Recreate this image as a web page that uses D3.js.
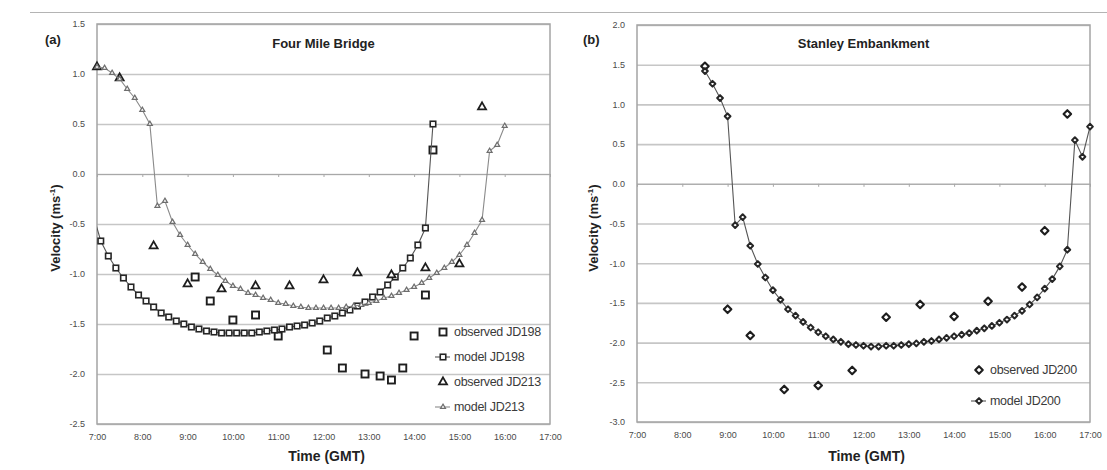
<!DOCTYPE html>
<html>
<head>
<meta charset="utf-8">
<script src="https://cdn.jsdelivr.net/npm/d3@7"></script>
<style>
  body { margin: 0; background: #fff; }
  svg { display: block; font-family: "Liberation Sans", Arial, sans-serif; }
</style>
</head>
<body>
<svg id="chart" width="1107" height="470"></svg>
<script>
// ---- shared axis labels ----
const timeTickLabels = ["7:00","8:00","9:00","10:00","11:00","12:00","13:00","14:00","15:00","16:00","17:00"];
const yTicksA = [-2.5, -2.0, -1.5, -1.0, -0.5, 0.0, 0.5, 1.0, 1.5];
const yTicksB = [-3.0, -2.5, -2.0, -1.5, -1.0, -0.5, 0.0, 0.5, 1.0, 1.5, 2.0];

// ---- (a) Four Mile Bridge ----
const modelJD198Time = ["6:55","7:05","7:15","7:25","7:35","7:45","7:55","8:05","8:15","8:25","8:35","8:45","8:55",
  "9:05","9:15","9:25","9:35","9:45","9:55","10:05","10:15","10:25","10:35","10:45","10:55",
  "11:05","11:15","11:25","11:35","11:45","11:55","12:05","12:15","12:25","12:35","12:45","12:55",
  "13:05","13:15","13:25","13:35","13:45","13:55","14:05","14:15","14:25"];
const modelJD198 = [-0.41,-0.67,-0.82,-0.94,-1.04,-1.13,-1.21,-1.27,-1.33,-1.39,-1.43,-1.47,-1.50,
  -1.53,-1.55,-1.57,-1.58,-1.59,-1.59,-1.59,-1.59,-1.59,-1.58,-1.57,-1.56,
  -1.55,-1.53,-1.52,-1.51,-1.49,-1.47,-1.44,-1.42,-1.39,-1.36,-1.32,-1.28,
  -1.23,-1.18,-1.11,-1.03,-0.94,-0.84,-0.71,-0.54,0.50];

const obsJD198Time = ["9:10","9:30","10:00","10:30","11:00","12:05","12:25","12:55","13:15","13:30","13:45","14:00","14:15","14:25"];
const obsJD198 = [-1.03,-1.27,-1.46,-1.41,-1.62,-1.76,-1.94,-2.00,-2.02,-2.06,-1.94,-1.62,-1.21,0.24];

const modelJD213Time = ["7:00","7:10","7:20","7:30","7:40","7:50","8:00","8:10","8:20","8:30","8:40","8:50",
  "9:00","9:10","9:20","9:30","9:40","9:50","10:00","10:10","10:20","10:30","10:40","10:50",
  "11:00","11:10","11:20","11:30","11:40","11:50","12:00","12:10","12:20","12:30","12:40","12:50",
  "13:00","13:10","13:20","13:30","13:40","13:50","14:00","14:10","14:20","14:30","14:40","14:50",
  "15:00","15:10","15:20","15:30","15:40","15:50","16:00"];
const modelJD213 = [1.07,1.06,1.01,0.95,0.85,0.76,0.64,0.50,-0.32,-0.27,-0.48,-0.61,
  -0.71,-0.80,-0.88,-0.95,-1.01,-1.07,-1.12,-1.15,-1.19,-1.21,-1.24,-1.26,
  -1.29,-1.30,-1.32,-1.33,-1.34,-1.34,-1.34,-1.34,-1.34,-1.33,-1.32,-1.31,
  -1.29,-1.27,-1.24,-1.22,-1.19,-1.16,-1.13,-1.09,-1.04,-0.99,-0.94,-0.88,
  -0.81,-0.71,-0.59,-0.46,0.23,0.29,0.48];

const obsJD213Time = ["7:00","7:30","8:15","9:00","9:45","10:30","11:15","12:00","12:45","13:30","14:15","15:00","15:30"];
const obsJD213 = [1.07,0.96,-0.72,-1.10,-1.15,-1.12,-1.12,-1.06,-0.99,-1.01,-0.94,-0.90,0.67];

// ---- (b) Stanley Embankment ----
const modelJD200Time = ["8:30","8:40","8:50","9:00","9:10","9:20","9:30","9:40","9:50",
  "10:00","10:10","10:20","10:30","10:40","10:50","11:00","11:10","11:20","11:30","11:40","11:50",
  "12:00","12:10","12:20","12:30","12:40","12:50","13:00","13:10","13:20","13:30","13:40","13:50",
  "14:00","14:10","14:20","14:30","14:40","14:50","15:00","15:10","15:20","15:30","15:40","15:50",
  "16:00","16:10","16:20","16:30","16:40","16:50","17:00"];
const modelJD200 = [1.42,1.26,1.08,0.85,-0.52,-0.42,-0.78,-1.01,-1.18,
  -1.34,-1.46,-1.58,-1.66,-1.74,-1.81,-1.87,-1.92,-1.96,-1.99,-2.02,-2.03,
  -2.04,-2.05,-2.05,-2.04,-2.04,-2.03,-2.02,-2.01,-1.99,-1.98,-1.96,-1.94,
  -1.92,-1.90,-1.88,-1.85,-1.82,-1.79,-1.75,-1.71,-1.66,-1.60,-1.52,-1.43,
  -1.32,-1.20,-1.04,-0.83,0.55,0.34,0.72];

const obsJD200Time = ["8:30","9:00","9:30","10:15","11:00","11:45","12:30","13:15","14:00","14:45","15:30","16:00","16:30"];
const obsJD200 = [1.48,-1.58,-1.91,-2.59,-2.54,-2.35,-1.68,-1.52,-1.67,-1.48,-1.30,-0.59,0.88];

// ---- helpers ----
const hours = s => { const [h, m] = s.split(":").map(Number); return h + m / 60; };
const pairs = (times, vals) => times.map((t, i) => ({ t: hours(t), v: vals[i] }));

const svg = d3.select("#chart");

// thin rule across the top of the figure
svg.append("line")
  .attr("x1", 30).attr("x2", 1107).attr("y1", 12.5).attr("y2", 12.5)
  .attr("stroke", "#b4b4b4").attr("stroke-width", 1.2);

// marker drawers
const markers = {
  square: (sel, size, stroke, sw) => sel.append("rect")
    .attr("x", -size / 2).attr("y", -size / 2).attr("width", size).attr("height", size)
    .attr("fill", "#fff").attr("stroke", stroke).attr("stroke-width", sw),
  triangle: (sel, size, stroke, sw) => sel.append("path")
    .attr("d", d3.symbol(d3.symbolTriangle, Math.sqrt(3) / 4 * size * size)())
    .attr("fill", "#fff").attr("stroke", stroke).attr("stroke-width", sw),
  diamond: (sel, size, stroke, sw) => sel.append("path")
    .attr("d", d3.symbol(d3.symbolDiamond2, size * size / 2)())
    .attr("fill", "#fff").attr("stroke", stroke).attr("stroke-width", sw)
    .attr("stroke-linejoin", "round")
};

function drawPanel(cfg) {
  const x = d3.scaleLinear().domain([7, 17]).range([cfg.left, cfg.right]);
  const y = d3.scaleLinear().domain(cfg.yDomain).range([cfg.bottom, cfg.top]);
  const w = cfg.right - cfg.left;
  const g = svg.append("g");

  // horizontal gridlines with value labels
  g.append("g")
    .attr("transform", `translate(${cfg.left},0)`)
    .call(d3.axisLeft(y).tickValues(cfg.yTicks).tickFormat(d => d.toFixed(1))
      .tickSizeInner(-w).tickSizeOuter(0).tickPadding(12))
    .call(a => {
      a.select(".domain").remove();
      a.selectAll("line").attr("stroke", "#c6c6c6").attr("stroke-width", 1.6);
      a.selectAll("text").attr("fill", "#4a4a4a").attr("font-size", 9);
    });

  // time axis line through zero with hour ticks
  g.append("g")
    .attr("transform", `translate(0,${y(0)})`)
    .call(d3.axisBottom(x).tickValues(timeTickLabels.map(hours)).tickFormat("")
      .tickSizeInner(3).tickSizeOuter(0))
    .call(a => {
      a.select(".domain").attr("stroke", "#a8a8a8").attr("stroke-width", 1);
      a.selectAll("line").attr("stroke", "#a8a8a8");
    });

  // time labels along the bottom
  g.append("g")
    .attr("transform", `translate(0,${cfg.bottom})`)
    .call(d3.axisBottom(x).tickValues(timeTickLabels.map(hours))
      .tickFormat((d, i) => timeTickLabels[i]).tickSize(0).tickPadding(10))
    .call(a => {
      a.select(".domain").remove();
      a.selectAll("text").attr("fill", "#4a4a4a").attr("font-size", 9);
    });

  // plot frame
  g.append("rect")
    .attr("x", cfg.left).attr("y", cfg.top).attr("width", w).attr("height", cfg.bottom - cfg.top)
    .attr("fill", "none").attr("stroke", "#a4a4a4").attr("stroke-width", 1.5);

  const clipId = "clip-" + cfg.id;
  svg.append("clipPath").attr("id", clipId).append("rect")
    .attr("x", cfg.left).attr("y", cfg.top).attr("width", w).attr("height", cfg.bottom - cfg.top);

  const line = d3.line().x(d => x(d.t)).y(d => y(d.v));

  cfg.series.forEach(s => {
    const data = pairs(s.times, s.values);
    if (s.line) {
      g.append("path").datum(data)
        .attr("d", line).attr("fill", "none")
        .attr("stroke", s.line).attr("stroke-width", 1.1)
        .attr("clip-path", `url(#${clipId})`);
    }
    const inside = data.filter(d => d.t >= 7 && d.t <= 17);
    g.append("g").selectAll("g").data(inside).join("g")
      .attr("transform", d => `translate(${x(d.t)},${y(d.v)})`)
      .each(function () { markers[s.shape](d3.select(this), s.size, s.stroke, s.sw); });
  });

  // legend
  cfg.series.forEach((s, i) => {
    const ly = cfg.legend.y + i * cfg.legend.dy;
    const lg = g.append("g");
    if (s.line) {
      lg.append("line")
        .attr("x1", cfg.legend.x - 8).attr("x2", cfg.legend.x + 7)
        .attr("y1", ly).attr("y2", ly)
        .attr("stroke", s.line).attr("stroke-width", 1.1);
    }
    markers[s.shape](lg.append("g").attr("transform", `translate(${cfg.legend.x},${ly})`),
      s.size, s.stroke, s.sw);
    lg.append("text")
      .attr("x", cfg.legend.x + 11).attr("y", ly + 4)
      .attr("font-size", 12.5).attr("letter-spacing", -0.3).attr("fill", "#3a3a3a")
      .text(s.name);
  });

  // panel letter, title and axis titles
  g.append("text").attr("x", cfg.letterX).attr("y", 44)
    .attr("font-size", 13).attr("font-weight", "bold").attr("fill", "#222").text(cfg.letter);
  g.append("text").attr("x", (cfg.left + cfg.right) / 2).attr("y", 48)
    .attr("text-anchor", "middle").attr("font-size", 13).attr("font-weight", "bold")
    .attr("fill", "#222").text(cfg.title);
  g.append("text").attr("x", (cfg.left + cfg.right) / 2 + 3).attr("y", 461)
    .attr("text-anchor", "middle").attr("font-size", 14).attr("font-weight", "bold")
    .attr("fill", "#222").text("Time (GMT)");
  const vt = g.append("text")
    .attr("transform", `translate(${cfg.vLabelX},${cfg.vLabelY}) rotate(-90)`)
    .attr("text-anchor", "middle").attr("font-size", 13).attr("font-weight", "bold")
    .attr("fill", "#222");
  vt.append("tspan").text("Velocity (ms");
  vt.append("tspan").attr("font-size", 8).attr("dy", -5).text("-1");
  vt.append("tspan").attr("dy", 5).text(")");
}

drawPanel({
  id: "a", left: 97, right: 550, top: 24, bottom: 424,
  yDomain: [-2.5, 1.5], yTicks: yTicksA,
  letter: "(a)", letterX: 45, title: "Four Mile Bridge",
  vLabelX: 60, vLabelY: 228,
  legend: { x: 443, y: 332, dy: 25 },
  series: [
    { name: "observed JD198", times: obsJD198Time, values: obsJD198, shape: "square", size: 7, stroke: "#1e1e1e", sw: 1.9 },
    { name: "model JD198", times: modelJD198Time, values: modelJD198, line: "#555", shape: "square", size: 5.5, stroke: "#262626", sw: 1.6 },
    { name: "observed JD213", times: obsJD213Time, values: obsJD213, shape: "triangle", size: 8, stroke: "#1e1e1e", sw: 1.8 },
    { name: "model JD213", times: modelJD213Time, values: modelJD213, line: "#8a8a8a", shape: "triangle", size: 5, stroke: "#6e6e6e", sw: 1.2 }
  ]
});

drawPanel({
  id: "b", left: 637, right: 1090, top: 25, bottom: 422,
  yDomain: [-3.0, 2.0], yTicks: yTicksB,
  letter: "(b)", letterX: 583, title: "Stanley Embankment",
  vLabelX: 598, vLabelY: 228,
  legend: { x: 979, y: 370, dy: 31 },
  series: [
    { name: "observed JD200", times: obsJD200Time, values: obsJD200, shape: "diamond", size: 8.5, stroke: "#1e1e1e", sw: 2.1 },
    { name: "model JD200", times: modelJD200Time, values: modelJD200, line: "#555", shape: "diamond", size: 6.5, stroke: "#262626", sw: 2 }
  ]
});
</script>
</body>
</html>
